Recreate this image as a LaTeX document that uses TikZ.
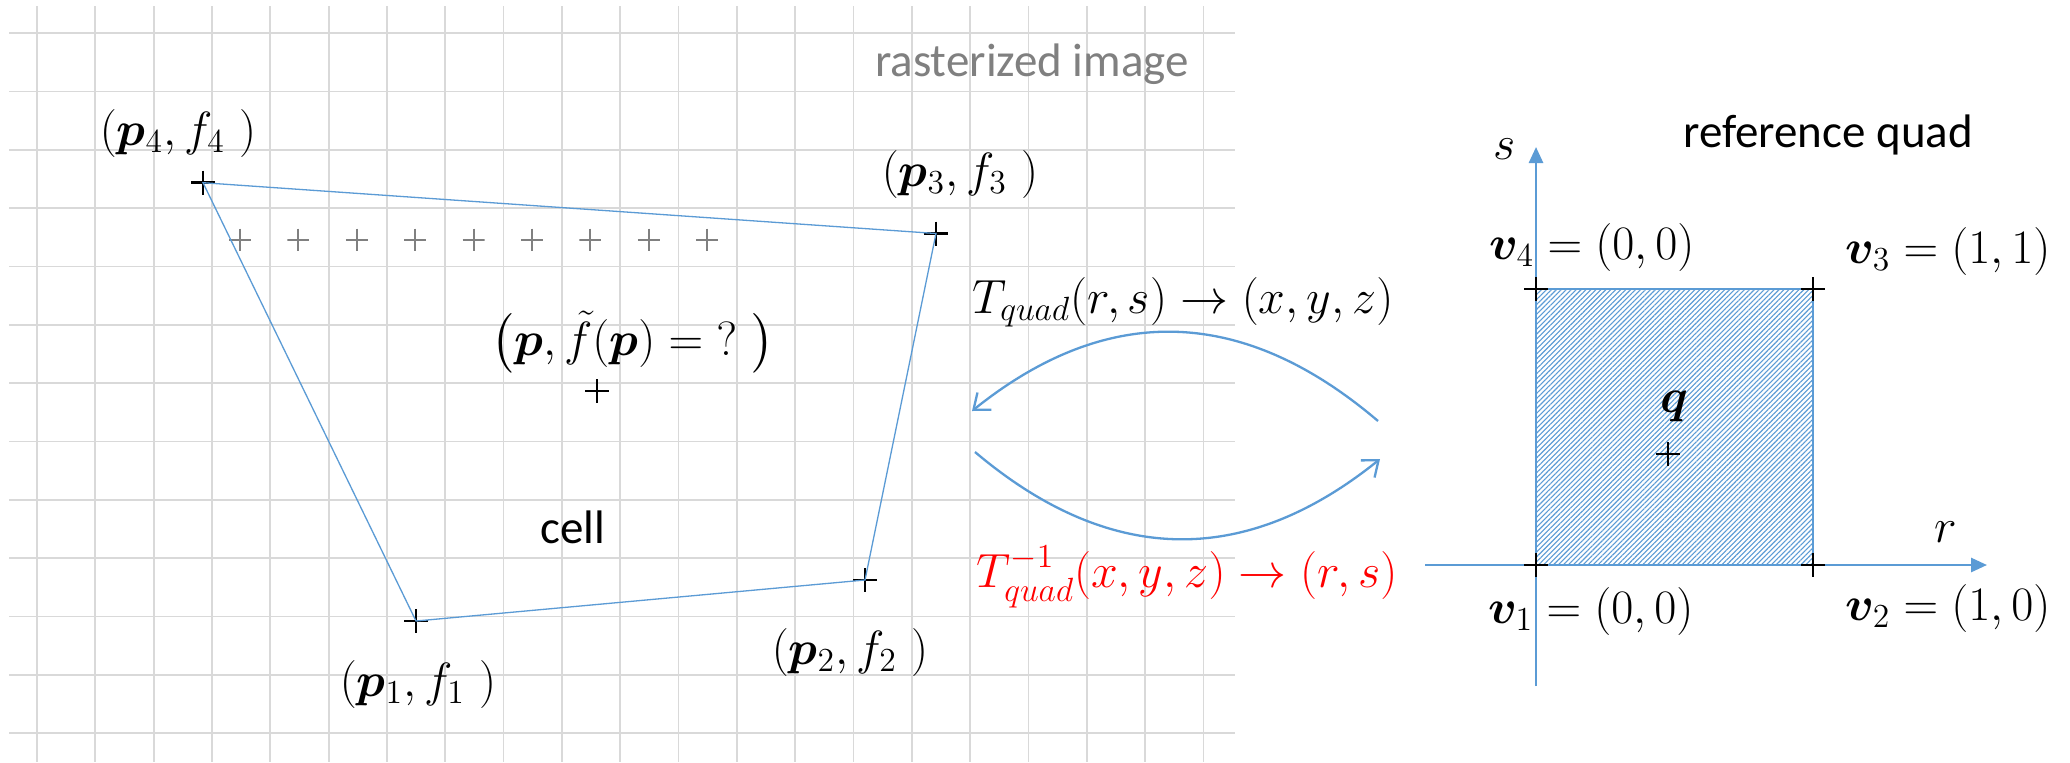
\RequirePackage{fix-cm}
\documentclass[tikz,border=0pt]{standalone}
\usepackage{amsmath}
\usepackage{bm}
\usepackage{fontspec}
\newfontfamily\calibri{Carlito}
\usetikzlibrary{arrows.meta,patterns.meta}
\definecolor{gridgray}{HTML}{D9D9D9}
\definecolor{officeblue}{HTML}{5B9BD5}
\definecolor{markgray}{HTML}{808080}
\tikzset{
  gridline/.style={gridgray, line width=0.85pt},
  quadline/.style={officeblue, line width=0.65pt},
  arcline/.style={officeblue, line width=1.15pt, -{Straight Barb[length=7pt,width=11pt,line width=1.15pt]}},
  axisline/.style={officeblue, line width=1.35pt, -{Triangle[length=8pt,width=7pt]}},
  plusmark/.style={inner sep=0pt, minimum size=12pt, path picture={
      \draw[black, line width=1.25pt]
        (path picture bounding box.north) -- (path picture bounding box.south)
        (path picture bounding box.west) -- (path picture bounding box.east);}},
  graymark/.style={inner sep=0pt, minimum size=11pt, path picture={
      \draw[markgray, line width=1pt]
        (path picture bounding box.north) -- (path picture bounding box.south)
        (path picture bounding box.west) -- (path picture bounding box.east);}},
  mathlbl/.style={font=\fontsize{24}{28}\selectfont, inner sep=0pt, anchor=base},
  txtlbl/.style={font=\calibri\fontsize{23.5}{28}\selectfont, inner sep=0pt, anchor=base},
}
\begin{document}
\begin{tikzpicture}[x=0.5pt, y=-0.5pt]
\useasboundingbox (0,0) rectangle (2070,762);
\fill[white] (0,0) rectangle (2070,762);
% grid
\foreach \k in {0,...,20} {
  \draw[gridline] ({37+58.33*\k},6) -- ({37+58.33*\k},762);
}
\foreach \k in {0,...,12} {
  \draw[gridline] (9,{33.3+58.33*\k}) -- (1235,{33.3+58.33*\k});
}
% gray sample marks
\foreach \k in {0,...,8} {
  \node[graymark] (g\k) at ({240+58.4*\k},239.5) {};
}
% cell vertices
\node[plusmark] (p4) at (203,182.7) {};
\node[plusmark] (p3) at (936,233.5) {};
\node[plusmark] (p2) at (865,580) {};
\node[plusmark] (p1) at (416,621) {};
\node[plusmark] (p) at (597,391) {};
\draw[quadline] (p4.center) -- (p3.center) -- (p2.center) -- (p1.center) -- cycle;
% labels left
\node[mathlbl] (lp4) at (178,145) {$(\bm{p}_4, f_4\ )$};
\node[mathlbl] (lp3) at (960,186) {$(\bm{p}_3, f_3\ )$};
\node[mathlbl] (lp1) at (418,696.5) {$(\bm{p}_1, f_1\ )$};
\node[mathlbl] (lp2) at (850,664) {$(\bm{p}_2, f_2\ )$};
\node[mathlbl] (lp) at (633,355) {$\bigl(\bm{p}, \tilde{f}(\bm{p}) = {?}\ \bigr)$};
\node[txtlbl, text=markgray] (raster) at (1032,76) {rasterized image};
\node[txtlbl] (cell) at (573,543) {cell};
% mapping arcs
\coordinate (uA) at (1378,421);
\coordinate (uB) at (972,411);
\coordinate (lA) at (975,452);
\coordinate (lB) at (1380,459);
\draw[arcline] (uA) .. controls (1242.7,305.7) and (1107.3,302.3) .. (uB);
\draw[arcline] (lA) .. controls (1109.5,565.7) and (1244.7,568) .. (lB);
\node[mathlbl] (tq) at (1183,313) {$T_{quad}(r,s) \rightarrow (x,y,z)$};
\node[mathlbl, text=red] (tinv) at (1187,587) {$T^{-1}_{quad}(x,y,z) \rightarrow (r,s)$};
% reference quad
\coordinate (v1c) at (1536,565);
\coordinate (v3c) at (1813,289);
\fill[pattern={Lines[angle=45,distance=1.75pt,line width=0.55pt]}, pattern color=officeblue] (v1c) rectangle (v3c);
\draw[officeblue, line width=0.8pt] (v1c) rectangle (v3c);
\coordinate (sbot) at (1536,686);
\coordinate (stop) at (1536,147);
\coordinate (rleft) at (1425,565);
\coordinate (rright) at (1987,565);
\draw[axisline] (sbot) -- (stop);
\draw[axisline] (rleft) -- (rright);
\node[plusmark] (v1) at (1536,565) {};
\node[plusmark] (v2) at (1813,565) {};
\node[plusmark] (v3) at (1813,289) {};
\node[plusmark] (v4) at (1536,289) {};
\node[plusmark] (q) at (1668,454) {};
\node[mathlbl] (lq) at (1674,412) {$\bm{q}$};
\node[mathlbl] (ls) at (1505,159) {$s$};
\node[mathlbl] (lr) at (1946,542) {$r$};
\node[mathlbl] (lv4) at (1592,259) {$\bm{v}_4 = (0, 0)$};
\node[mathlbl] (lv3) at (1948,263) {$\bm{v}_3 = (1, 1)$};
\node[mathlbl] (lv1) at (1591,623) {$\bm{v}_1 = (0, 0)$};
\node[mathlbl] (lv2) at (1948,620) {$\bm{v}_2 = (1, 0)$};
\node[txtlbl] (refq) at (1828,147) {reference quad};
\end{tikzpicture}
\end{document}
